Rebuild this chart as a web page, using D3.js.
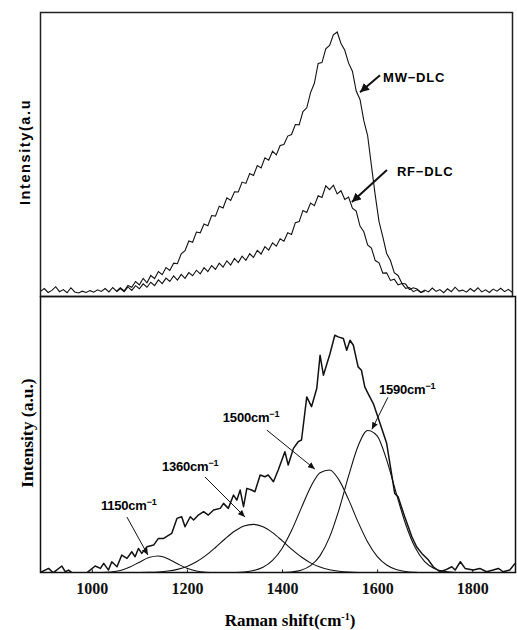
<!DOCTYPE html>
<html>
<head>
<meta charset="utf-8">
<script src="https://cdn.jsdelivr.net/npm/d3@7"></script>
<style>
  body { margin: 0; background: #fff; }
</style>
</head>
<body>
<svg id="chart" width="517" height="630"></svg>
<script>
// ---- top panel: raw spectra, one value every 8 cm-1 ----
const mwStart = 892, rfStart = 1052, step = 8;
const mwDLC = [
  0.8, 1.9, 0.4, 1.2, 2.6, 0.7, 1.5, 0.3, 2.2, 0.6,
  0.2, 0.9, 0.4, 1.1, 0.5, 1.4, 0.8, 1.9, 0.6, 2.3,
  0.9,
  2.2, 1.0, 3.1, 2.4, 4.6, 3.3, 5.8, 4.1, 6.9, 5.7,
  8.4, 7.2, 9.9, 8.8, 11.6, 11.4, 15.2, 16.4, 20.1, 19.6,
  23.5, 23.2, 26.6, 25.9, 29.8, 29.6, 33.4, 32.7, 36.6, 35.6,
  38.9, 38.8, 42.6, 42.1, 45.9, 45.1, 48.9, 48.0, 51.9, 51.0,
  54.4, 53.0, 56.6, 57.0, 60.2, 60.8, 64.6, 64.5, 69.6, 71.0,
  76.8, 80.4, 88.0, 88.3, 93.6, 94.9, 98.9, 100.0, 95.6, 93.0,
  88.1, 85.0, 77.4, 74.2, 66.1, 60.4, 48.9, 37.6, 27.5, 21.7,
  15.3, 12.6, 8.0, 6.9, 3.9, 3.6, 1.5, 2.2,
  1.7, 0.4, 1.3, 0.6, 2.1, 0.8, 1.5, 0.3, 1.8, 0.7,
  2.4, 0.9, 1.3, 0.5, 1.9, 0.8, 2.2, 0.6, 1.4, 0.4,
  1.7, 0.9, 2.0, 0.7, 1.6, 0.5
];
const rfDLC = [
  0.6, 1.9, 0.7, 2.5, 1.2, 3.0, 1.8, 3.7, 2.4, 4.3,
  3.0, 5.2, 3.8, 5.9, 4.6, 6.7, 5.1, 7.3, 5.8, 8.0,
  6.8, 8.9, 7.5, 9.9, 8.4, 10.7, 9.2, 11.6, 10.1, 12.5,
  10.9, 13.4, 11.8, 14.3, 12.7, 15.2, 13.8, 16.5, 15.1, 17.9,
  16.6, 19.4, 18.1, 20.9, 20.0, 23.2, 22.6, 27.1, 27.5, 31.7,
  31.0, 34.6, 33.6, 37.4, 36.7, 41.2, 39.7, 41.4, 38.1, 39.3,
  36.0, 36.9, 32.6, 31.5, 25.8, 23.6, 18.6, 17.4, 12.6, 11.7,
  7.8, 7.9, 5.0, 5.5, 3.3, 3.8, 2.0, 2.3, 0.7, 1.4,
  0.4, 0.9
];

// ---- bottom panel: measured spectrum ----
const shift = [
  891, 909, 919, 937, 944, 951, 958, 990, 1007, 1018,
  1025, 1035, 1042, 1053, 1063, 1074, 1084, 1091, 1098, 1105,
  1116, 1130, 1140, 1151, 1168, 1179, 1189, 1196, 1207, 1214,
  1224, 1235, 1245, 1256, 1270, 1277, 1287, 1298, 1305, 1312,
  1319, 1326, 1336, 1343, 1354, 1364, 1371, 1382, 1392, 1406,
  1413, 1424, 1434, 1441, 1452, 1462, 1473, 1480, 1487, 1501,
  1511, 1518, 1529, 1536, 1543, 1550, 1560, 1567, 1574, 1581,
  1592, 1606, 1620, 1637, 1644, 1658, 1673, 1683, 1694, 1708,
  1718, 1732, 1743, 1757, 1764, 1775, 1785, 1802, 1816, 1830,
  1844, 1855, 1865, 1879, 1890
];
const intensity = [
  0, 1.8, 0, 2.8, 0.4, 1.1, 0, 0, 2.8, 1.8,
  3.9, 1.1, 4.6, 2.5, 7.4, 6.0, 8.8, 6.7, 10.2, 8.1,
  10.9, 11.6, 14.4, 14.4, 16.5, 22.8, 23.5, 19.3, 23.5, 22.1,
  24.2, 25.6, 24.2, 26.3, 27.0, 29.1, 27.0, 32.6, 30.5, 34.7,
  27.7, 35.4, 34.7, 34.0, 41.0, 40.3, 41.0, 38.2, 43.1, 50.8,
  45.2, 52.2, 55.0, 55.7, 73.8, 69.7, 77.3, 91.3, 82.9, 92.0,
  99.7, 99.0, 98.3, 93.4, 97.6, 95.5, 86.4, 85.0, 78.0, 75.2,
  71.0, 62.7, 54.3, 33.3, 31.9, 23.5, 15.1, 10.9, 8.1, 5.3,
  2.5, 0.4, 1.1, 2.5, 1.1, 4.6, 1.8, 1.1, 1.8, 0.4,
  1.1, 1.8, 0.4, 1.1, 3.9
];

// fitted bands, one value every 20 cm-1
const fitStep = 20;
const fitLabels = ['1150', '1360', '1500', '1590'];
const fitStarts = [1000, 1080, 1260, 1360];
const fit1150 = [0.01, 0.07, 0.30, 0.96, 2.36, 4.43, 6.36, 6.98, 5.86, 3.77, 1.85, 0.70, 0.20, 0.04, 0];
const fit1360 = [0.02, 0.05, 0.13, 0.31, 0.68, 1.41, 2.65, 4.58, 7.27, 10.59, 14.16, 17.39, 19.61, 20.3,
  19.27, 16.81, 13.46, 9.89, 6.67, 4.13, 2.35, 1.23, 0.59, 0.26, 0.10, 0.04, 0];
const fit1500 = [0, 0.02, 0.09, 0.30, 0.89, 2.28, 5.15, 10.18, 17.68, 26.90, 35.90, 42.0, 43.14, 38.85,
  30.67, 21.24, 12.91, 6.87, 3.21, 1.31, 0.47, 0.15, 0.04, 0];
const fit1590 = [0, 0.02, 0.08, 0.32, 1.05, 2.96, 7.18, 14.93, 26.60, 40.62, 53.20, 59.71, 57.46, 47.38,
  33.51, 20.32, 10.55, 4.70, 1.80, 0.59, 0.16, 0.04, 0];

const xTicks = [1000, 1200, 1400, 1600, 1800];

// ---------------------------------------------------------------
const svg = d3.select('#chart');

const x = d3.scaleLinear().domain([891, 1891]).range([40, 515.5]);
const yTop = d3.scaleLinear().domain([0, 100]).range([293.5, 32]);
const yBot = d3.scaleLinear().domain([0, 100]).range([572.7, 334.5]);

function toPoints(vals, start, st) {
  return vals.map((v, i) => ({x: start + i * st, y: v}));
}

const defs = svg.append('defs');
defs.append('clipPath').attr('id', 'clipTop')
  .append('rect').attr('x', 40).attr('y', 12).attr('width', 472.5).attr('height', 284.5);
defs.append('clipPath').attr('id', 'clipBot')
  .append('rect').attr('x', 40).attr('y', 297).attr('width', 475.5).attr('height', 276);

function marker(id, len, wid) {
  defs.append('marker')
    .attr('id', id)
    .attr('markerUnits', 'userSpaceOnUse')
    .attr('viewBox', `0 ${-wid} ${len} ${wid * 2}`)
    .attr('refX', len).attr('refY', 0)
    .attr('markerWidth', len).attr('markerHeight', wid * 2)
    .attr('orient', 'auto')
    .append('path')
    .attr('d', `M0,${-wid} L${len},0 L0,${wid} Z`)
    .attr('fill', '#111');
}
marker('headBig', 9, 4.5);
marker('headSmall', 7, 3);

// ---- top panel ----
const lineTop = d3.line().x(d => x(d.x)).y(d => yTop(d.y));
const gTop = svg.append('g').attr('clip-path', 'url(#clipTop)');

gTop.append('path')
  .datum(toPoints(rfDLC, rfStart, step))
  .attr('d', lineTop)
  .attr('fill', 'none').attr('stroke', '#111').attr('stroke-width', 1.1);
gTop.append('path')
  .datum(toPoints(mwDLC, mwStart, step))
  .attr('d', lineTop)
  .attr('fill', 'none').attr('stroke', '#111').attr('stroke-width', 1.1);

svg.append('rect')
  .attr('x', 40.5).attr('y', 12.5).attr('width', 472).attr('height', 284)
  .attr('fill', 'none').attr('stroke', '#222').attr('stroke-width', 1.5);

svg.append('text')
  .attr('transform', 'translate(30,152) rotate(-90)')
  .attr('text-anchor', 'middle')
  .style('font-family', '"Liberation Sans", Arial, sans-serif')
  .style('font-weight', 'bold').style('font-size', '14.5px')
  .style('letter-spacing', '1.6px')
  .text('Intensity(a.u');

// labels in the top panel: tip on the curve, tail offset in px
const topNotes = [
  {label: 'MW\u2212DLC', sx: 1564, sy: 77, dx: 20, dy: -17, tx: 3, ty: 2},
  {label: 'RF\u2212DLC', sx: 1547, sy: 35, dx: 35, dy: -32, tx: 10, ty: 1}
];
topNotes.forEach(function(n) {
  let px = x(n.sx), py = yTop(n.sy);
  svg.append('line')
    .attr('x1', px + n.dx).attr('y1', py + n.dy)
    .attr('x2', px).attr('y2', py)
    .attr('stroke', '#111').attr('stroke-width', 2)
    .attr('marker-end', 'url(#headBig)');
  svg.append('text')
    .attr('x', px + n.dx + n.tx).attr('y', py + n.dy + n.ty)
    .attr('dy', '0.35em')
    .style('font-family', '"Liberation Sans", Arial, sans-serif')
    .style('font-weight', 'bold').style('font-size', '13px')
    .style('letter-spacing', '0.8px')
    .text(n.label);
});

// ---- bottom panel ----
const lineBot = d3.line().x(d => x(d.x)).y(d => yBot(d.y));
const fitLine = d3.line().x(d => x(d.x)).y(d => yBot(d.y)).curve(d3.curveMonotoneX);
const gBot = svg.append('g').attr('clip-path', 'url(#clipBot)');

[fit1150, fit1360, fit1500, fit1590].forEach(function(vals, i) {
  gBot.append('path')
    .datum(toPoints(vals, fitStarts[i], fitStep))
    .attr('d', fitLine)
    .attr('fill', 'none').attr('stroke', '#111').attr('stroke-width', 1.1);
});

gBot.append('path')
  .datum(d3.zip(shift, intensity).map(p => ({x: p[0], y: p[1]})))
  .attr('d', lineBot)
  .attr('fill', 'none').attr('stroke', '#111').attr('stroke-width', 1.5)
  .attr('stroke-linejoin', 'round');

svg.append('rect')
  .attr('x', 40.5).attr('y', 296.5).attr('width', 475).attr('height', 276)
  .attr('fill', 'none').attr('stroke', '#111').attr('stroke-width', 1.5);

const xAxis = svg.append('g')
  .attr('transform', 'translate(0,572.5)')
  .call(d3.axisBottom(x).tickValues(xTicks).tickSize(-3).tickPadding(10).tickFormat(d3.format('d')));
xAxis.select('.domain').remove();
xAxis.selectAll('line').attr('stroke', '#111');
xAxis.selectAll('text')
  .attr('fill', '#111')
  .style('font-family', '"Liberation Serif", "Times New Roman", serif')
  .style('font-weight', 'bold').style('font-size', '16px');

const xTitle = svg.append('text')
  .attr('x', 290).attr('y', 626)
  .attr('text-anchor', 'middle')
  .style('font-family', '"Liberation Serif", "Times New Roman", serif')
  .style('font-weight', 'bold').style('font-size', '17px');
xTitle.append('tspan').text('Raman shift(cm');
xTitle.append('tspan').attr('dy', -6).style('font-size', '10px').text('-1');
xTitle.append('tspan').attr('dy', 6).text(')');

svg.append('text')
  .attr('transform', 'translate(33,433) rotate(-90)')
  .attr('text-anchor', 'middle')
  .style('font-family', '"Liberation Serif", "Times New Roman", serif')
  .style('font-weight', 'bold').style('font-size', '17.5px')
  .text('Intensity (a.u.)');

// band labels: arrow tip at a point of the fitted band
const botNotes = [
  {sx: 1118, sy: 7.4, dx: -21, dy: -38, tx: -26, ty: -12},
  {sx: 1322, sy: 23.4, dx: -40, dy: -40, tx: -43, ty: -11},
  {sx: 1469, sy: 43.5, dx: -48, dy: -39, tx: -44, ty: -13},
  {sx: 1589, sy: 60.2, dx: 16, dy: -32, tx: -9, ty: -8}
];
botNotes.forEach(function(n, i) {
  let px = x(n.sx), py = yBot(n.sy);
  svg.append('line')
    .attr('x1', px + n.dx).attr('y1', py + n.dy)
    .attr('x2', px).attr('y2', py)
    .attr('stroke', '#111').attr('stroke-width', 1)
    .attr('marker-end', 'url(#headSmall)');
  let t = svg.append('text')
    .attr('x', px + n.dx + n.tx).attr('y', py + n.dy + n.ty)
    .attr('dy', '0.35em')
    .style('font-family', '"Liberation Sans", Arial, sans-serif')
    .style('font-weight', 'bold').style('font-size', '13px')
    .style('letter-spacing', '-0.2px');
  t.append('tspan').text(fitLabels[i] + 'cm');
  t.append('tspan').attr('dy', -5).style('font-size', '9px').text('\u22121');
});
</script>
</body>
</html>
